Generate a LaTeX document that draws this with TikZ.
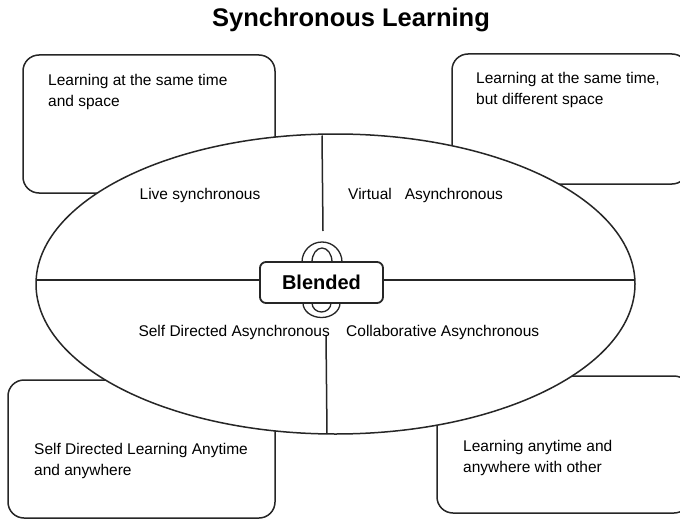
\documentclass[tikz,border=0pt]{standalone}
\usepackage{fontspec}
\setmainfont{Liberation Sans}
\usetikzlibrary{shapes.geometric}

\tikzset{
  outline/.style={draw=black!85, line width=1.5pt},
  corner/.style={outline, rounded corners=16pt, fill=white, inner sep=0pt},
  boxtext/.style={anchor=west, align=left, inner sep=0pt,
    font=\fontsize{15.5}{21}\selectfont},
  quadlabel/.style={inner sep=0pt, font=\fontsize{15.5}{18}\selectfont},
  hub/.style={outline, line width=1.8pt, rounded corners=6pt, fill=white,
    minimum width=123pt, minimum height=41pt, inner sep=0pt,
    font=\bfseries\fontsize{20}{24}\selectfont},
  handle/.style={outline, line width=1.3pt, fill=white}
}

\begin{document}
\begin{tikzpicture}[x=1pt,y=1pt]
  \useasboundingbox (0,0) rectangle (680,-519);

  % title
  \node[font=\bfseries\fontsize{25.5}{30}\selectfont] (title) at (351,-20) {Synchronous Learning};

  % four corner boxes
  \node[corner, minimum width=252pt, minimum height=138pt] (tl) at (149,-124) {};
  \node[corner, minimum width=236pt, minimum height=130pt] (tr) at (570,-119) {};
  \node[corner, minimum width=267pt, minimum height=138pt] (bl) at (141.5,-449) {};
  \node[corner, minimum width=253pt, minimum height=137pt] (br) at (563.5,-444.5) {};

  \node[boxtext] (tltext) at (48,-92) {Learning at the same time\\and space};
  \node[boxtext] (trtext) at (476,-90) {Learning at the same time,\\but different space};
  \node[boxtext] (bltext) at (34,-461) {Self Directed Learning Anytime\\and anywhere};
  \node[boxtext] (brtext) at (463,-458) {Learning anytime and\\anywhere with other};

  % central ellipse, drawn over the boxes
  \node[ellipse, outline, fill=white, minimum width=599pt, minimum height=300pt,
        inner sep=0pt] (ell) at (335.5,-284) {};

  % quadrant dividers
  \coordinate (vtop1) at (322,-135.5);
  \coordinate (vtop2) at (323,-231);
  \coordinate (vbot1) at (326,-335);
  \coordinate (vbot2) at (327,-434);
  \coordinate (hl) at (36.5,-280);
  \coordinate (hr) at (634.5,-280);
  \draw[outline] (vtop1) -- (vtop2);
  \draw[outline] (vbot1) -- (vbot2);

  % handles above and below the hub
  \draw[handle] (302,-262) arc[start angle=180, end angle=0, radius=20]
     -- (332,-262) arc[start angle=0, end angle=180, x radius=10, y radius=14] -- cycle;
  \draw[handle] (303,-303) arc[start angle=180, end angle=360, x radius=18.5, y radius=14.5]
     -- (331,-303) arc[start angle=360, end angle=180, x radius=9.5, y radius=9] -- cycle;

  % blended hub
  \node[hub] (blend) at (321.5,-282.5) {Blended};
  \draw[outline] (hl) -- (blend.west |- hl);
  \draw[outline] (blend.east |- hr) -- (hr);

  % quadrant labels
  \node[quadlabel] (live) at (200,-195) {Live synchronous};
  \node[quadlabel, anchor=west] (virt) at (348,-195) {Virtual\ \ \ Asynchronous};
  \node[quadlabel, anchor=east] (self) at (330,-332) {Self Directed Asynchronous};
  \node[quadlabel, anchor=west] (coll) at (346,-332) {Collaborative Asynchronous};
\end{tikzpicture}
\end{document}
